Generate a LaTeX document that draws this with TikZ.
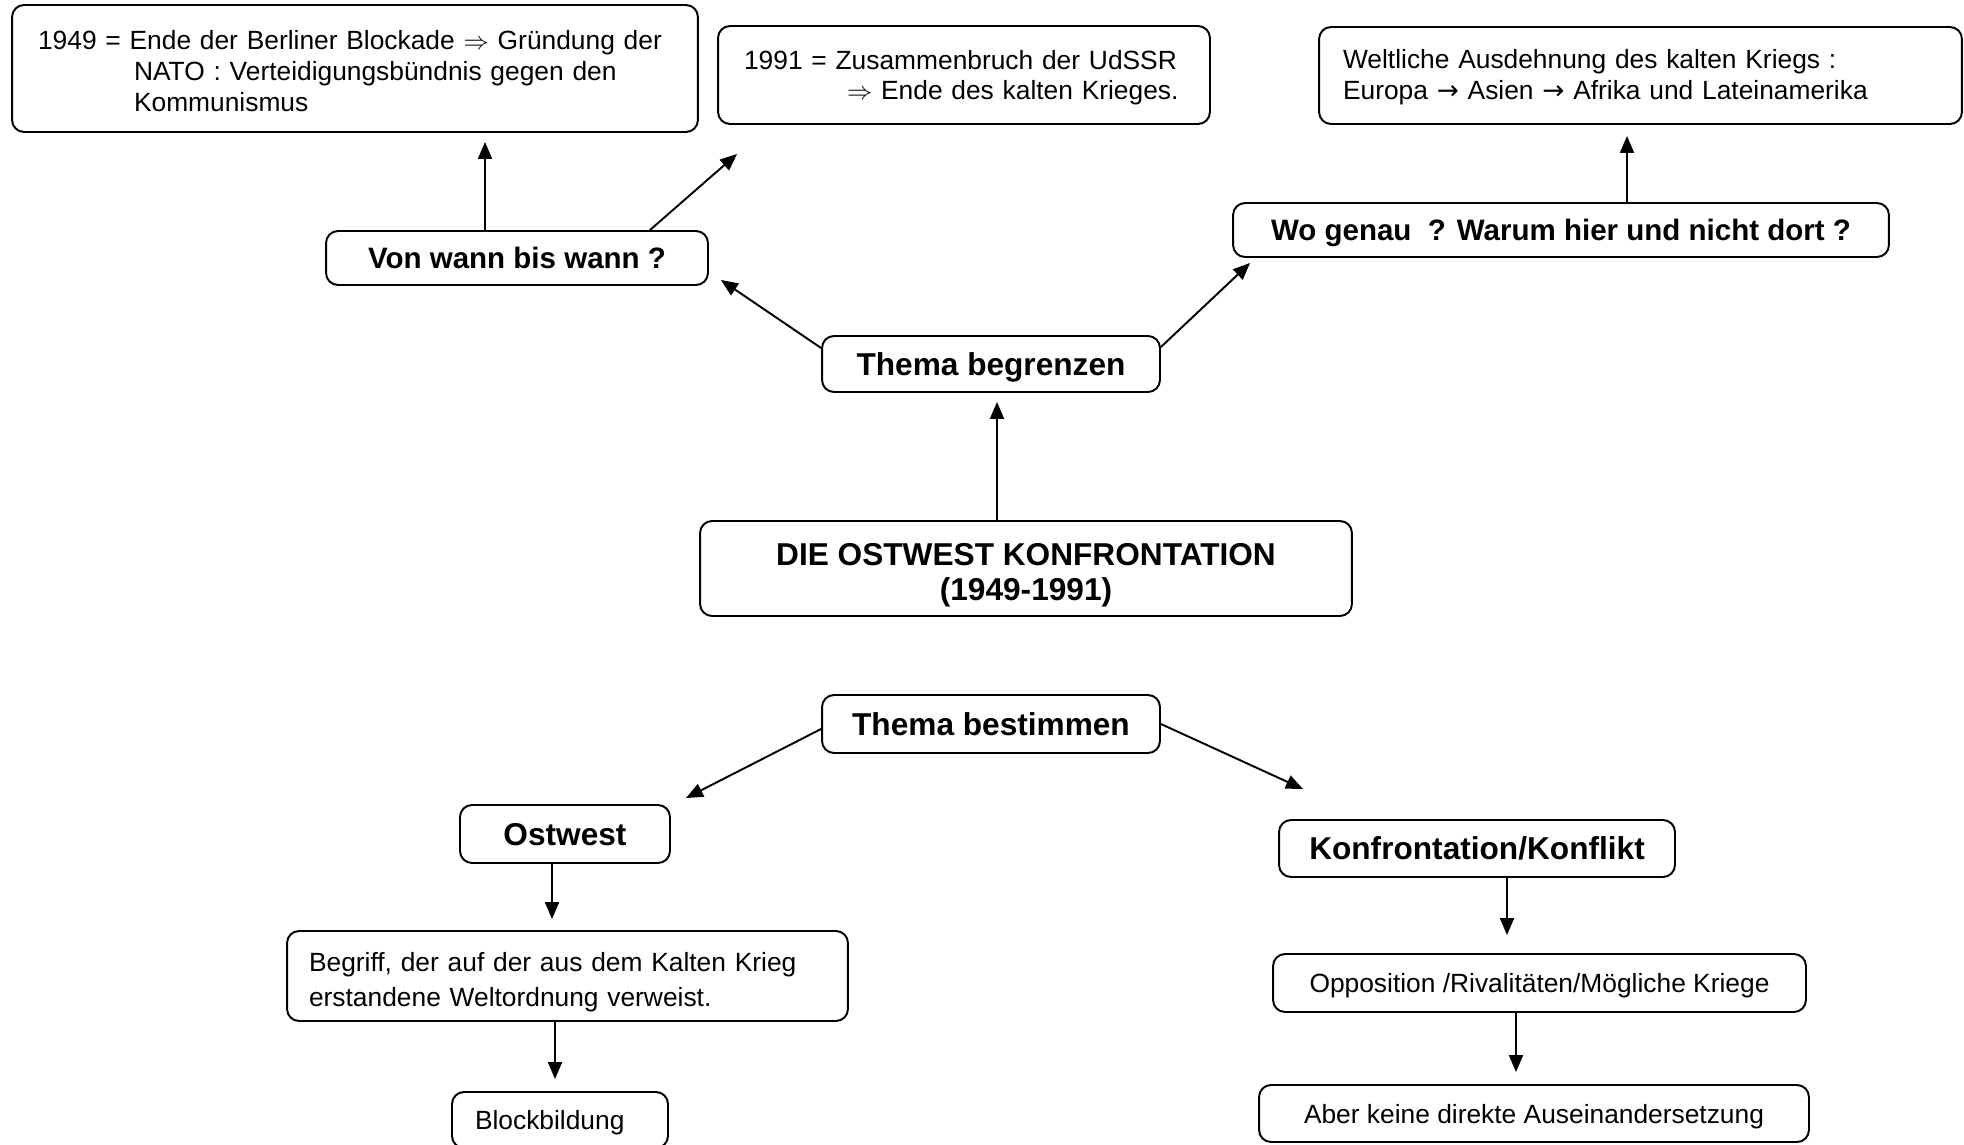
\documentclass[tikz,border=0pt]{standalone}
\usepackage{fontspec}
\setmainfont{Liberation Sans}
\newfontfamily\arrowfont{DejaVu Sans}
\usetikzlibrary{arrows.meta}

\begin{document}
\begin{tikzpicture}[x=0.02cm,y=-0.02cm]
        \tikzstyle{every path}=[line width=1.1pt]

        \tikzstyle{box}=[draw,rounded corners=0.24cm,inner sep=0pt,font=\fontsize{15}{17.6}\selectfont]
        \tikzstyle{one}=[box,text depth=0pt]
        \tikzstyle{head}=[one,font=\fontsize{18}{19.8}\selectfont\bfseries]
        \tikzstyle{ask}=[one,font=\fontsize{16.8}{19}\selectfont\bfseries]
        \tikzstyle{arr}=[-{Triangle[length=0.34cm,width=0.28cm]}]

        \useasboundingbox (0,0) rectangle (1964,1145);

        % upper half: Thema begrenzen
        \node [box,minimum height=2.54cm,text width=12.68cm,inner xsep=0.52cm,align=left] (nato) at (355,68.5)
            {\rule{0pt}{0.49cm}1949 = Ende der Berliner Blockade $\Rightarrow$ Gründung der\\
             \hspace*{1.92cm}NATO : Verteidigungsbündnis gegen den\\
             \hspace*{1.92cm}Kommunismus};
        \node [box,minimum height=1.96cm,text width=8.8cm,inner xsep=0.52cm,align=left] (udssr) at (964,75)
            {\rule{0pt}{0.49cm}1991 = Zusammenbruch der UdSSR\\
             \hspace*{2.06cm}$\Rightarrow$ Ende des kalten Krieges.};
        \node [box,minimum height=1.94cm,text width=11.9cm,inner xsep=0.48cm,align=left] (welt) at (1640.5,75.5)
            {\rule{0pt}{0.45cm}Weltliche Ausdehnung des kalten Kriegs :\\
             Europa {\arrowfont→} Asien {\arrowfont→} Afrika und Lateinamerika};
        \node [ask,minimum width=7.64cm,minimum height=1.08cm] (vonwann) at (517,258) {Von wann bis wann ?};
        \node [ask,minimum width=13.12cm,minimum height=1.08cm] (wogenau) at (1561,230) {Wo genau \ ? Warum hier und nicht dort ?};
        \node [head,minimum width=6.76cm,minimum height=1.12cm] (begrenzen) at (991,364) {Thema begrenzen};
        \node [box,font=\fontsize{18}{19.8}\selectfont\bfseries,minimum width=13.04cm,minimum height=1.9cm,align=center] (titel) at (1026,568.5)
            {\rule{0pt}{0.7cm}DIE OSTWEST KONFRONTATION\\(1949-1991)};

        % lower half: Thema bestimmen
        \node [head,minimum width=6.76cm,minimum height=1.16cm] (bestimmen) at (991,724) {Thema bestimmen};
        \node [head,minimum width=4.2cm,minimum height=1.16cm] (ostwest) at (565,834) {Ostwest};
        \node [head,minimum width=7.92cm,minimum height=1.14cm] (konflikt) at (1477,848.5) {Konfrontation/Konflikt};
        \node [box,font=\fontsize{15}{19.8}\selectfont,minimum height=1.8cm,text width=10.34cm,inner xsep=0.44cm,align=left] (begriff) at (567.5,976)
            {\rule{0pt}{0.64cm}Begriff, der auf der aus dem Kalten Krieg\\
             erstandene Weltordnung verweist.};
        \node [one,minimum height=1.12cm,text width=3.4cm,inner xsep=0.46cm,align=left] (block) at (560,1120) {Blockbildung};
        \node [one,minimum width=10.66cm,minimum height=1.16cm] (opposition) at (1539.5,983) {Opposition /Rivalitäten/Mögliche Kriege};
        \node [one,minimum width=11cm,minimum height=1.14cm] (aber) at (1534,1113.5) {Aber keine direkte Auseinandersetzung};

        %arrows between the boxes
        \draw [arr,shorten >=0.18cm] ([xshift=-0.64cm]vonwann.north) -- ([xshift=-0.64cm]vonwann.north |- nato.south);
        \draw [arr] ([xshift=2.66cm]vonwann.north) -- ([shift={(20,29)}]udssr.south west);
        \draw [arr] ([shift={(0,-16)}]begrenzen.west) -- ([shift={(12,-6)}]vonwann.south east);
        \draw [arr] ([shift={(0,-17)}]begrenzen.east) -- ([shift={(18,5)}]wogenau.south west);
        \draw [arr,shorten >=0.22cm] ([xshift=1.32cm]wogenau.north) -- ([xshift=1.32cm]wogenau.north |- welt.south);
        \draw [arr,shorten >=0.18cm] ([xshift=-0.58cm]titel.north) -- ([xshift=-0.58cm]titel.north |- begrenzen.south);

        \draw [arr] ([shift={(0,5)}]bestimmen.west) -- ([shift={(15,-6)}]ostwest.north east);
        \draw [arr] (bestimmen.east) -- ([shift={(25,-30)}]konflikt.north west);
        \draw [arr,shorten >=0.22cm] ([xshift=-0.26cm]ostwest.south) -- ([xshift=-0.26cm]ostwest.south |- begriff.north);
        \draw [arr,shorten >=0.24cm] ([xshift=-0.25cm]begriff.south) -- ([xshift=-0.25cm]begriff.south |- block.north);
        \draw [arr,shorten >=0.36cm] ([xshift=0.6cm]konflikt.south) -- ([xshift=0.6cm]konflikt.south |- opposition.north);
        \draw [arr,shorten >=0.24cm] ([xshift=-0.47cm]opposition.south) -- ([xshift=-0.47cm]opposition.south |- aber.north);
\end{tikzpicture}
\end{document}
